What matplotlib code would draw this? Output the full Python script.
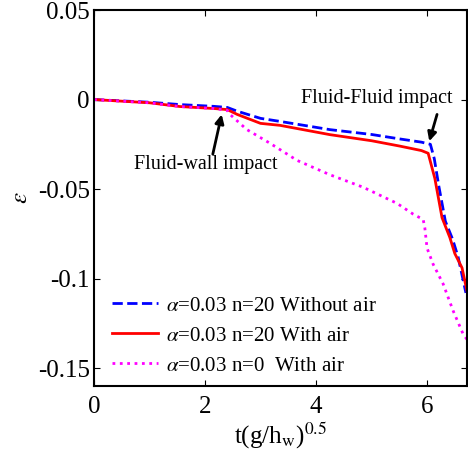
import matplotlib
matplotlib.use('Agg')
import matplotlib.pyplot as plt

plt.rcParams['font.family'] = 'Liberation Serif'
plt.rcParams['mathtext.fontset'] = 'stix'

# without air, n=20
t_blue = [0, 1.0, 1.55, 2.16, 2.40, 2.58, 3.0, 3.35, 4.25, 5.0, 5.51, 5.9, 6.06, 6.13, 6.21, 6.33, 6.46, 6.56, 6.70]
e_blue = [0, -0.0015, -0.0028, -0.0038, -0.0044, -0.0065, -0.0105, -0.0122, -0.0168, -0.0195, -0.022, -0.0238, -0.025, -0.033, -0.048, -0.068, -0.078, -0.088, -0.108]

# with air, n=20
t_red = [0, 1.0, 1.55, 2.16, 2.40, 2.58, 3.0, 3.35, 4.25, 5.0, 5.51, 5.9, 6.02, 6.14, 6.27, 6.41, 6.5, 6.63, 6.72]
e_red = [0, -0.0018, -0.0039, -0.005, -0.0056, -0.0083, -0.0133, -0.0144, -0.0196, -0.023, -0.026, -0.0285, -0.030, -0.044, -0.066, -0.077, -0.086, -0.094, -0.107]

# with air, n=0
t_mag = [0, 1.0, 1.55, 2.16, 2.40, 2.45, 2.75, 3.17, 3.66, 4.25, 4.85, 5.46, 5.75, 5.93, 5.96, 6.0, 6.11, 6.29, 6.47, 6.65, 6.72]
e_mag = [0, -0.0018, -0.0039, -0.005, -0.006, -0.0083, -0.0167, -0.0244, -0.034, -0.042, -0.049, -0.058, -0.064, -0.067, -0.0717, -0.083, -0.092, -0.103, -0.118, -0.131, -0.134]

labels = [r'$\alpha$=0.03 n=20 Without air', r'$\alpha$=0.03 n=20 With air', r'$\alpha$=0.03 n=0  With air']

fig = plt.figure(figsize=(4.68, 4.63), dpi=100)
ax = fig.add_axes([0.2009, 0.1663, 0.797, 0.812])
ax.plot(t_blue, e_blue, '--', color='blue', lw=2, label=labels[0])
ax.plot(t_red, e_red, '-', color='red', lw=2, label=labels[1])
ax.plot(t_mag, e_mag, ':', color='magenta', lw=2, label=labels[2])

ax.set_xlim(0, 6.72)
ax.set_ylim(-0.16, 0.05)
ax.set_xticks([0, 2, 4, 6])
ax.set_yticks([-0.15, -0.1, -0.05, 0, 0.05])
ax.set_yticklabels(['-0.15', '-0.1', '-0.05', '0', '0.05'])
ax.tick_params(direction='in', top=True, right=True, length=4, labelsize=18)
ax.tick_params(axis='x', pad=7)
ax.tick_params(axis='y', pad=3)
for s in ax.spines.values():
    s.set_linewidth(1.5)

ax.set_xlabel(r't(g/h$_\mathrm{w}$)$^{0.5}$', fontsize=18, labelpad=2)
ax.set_ylabel(r'$\varepsilon$', fontsize=18)

arrow = dict(arrowstyle='-|>', color='black', lw=2, mutation_scale=13, shrinkA=0, shrinkB=0)
ax.text(2.02, -0.0363, 'Fluid-wall impact', fontsize=14.5, ha='center', va='center')
ax.annotate('', xy=(2.30, -0.0083), xytext=(2.14, -0.0305), arrowprops=arrow)
ax.text(5.1, 0.0006, 'Fluid-Fluid impact', fontsize=14.5, ha='center', va='center')
ax.annotate('', xy=(6.04, -0.0233), xytext=(6.18, -0.0083), arrowprops=arrow)

ax.legend(loc='lower left', bbox_to_anchor=(0.02, 0.0), frameon=False, fontsize=15,
          handlelength=2.2, labelspacing=0.5, handletextpad=0.4, borderaxespad=0.1)

fig.savefig('out.png', dpi=100)
